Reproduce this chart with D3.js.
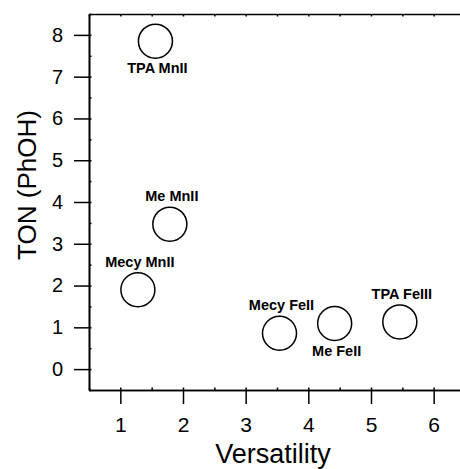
<!DOCTYPE html>
<html>
<head>
<meta charset="utf-8">
<script src="https://cdn.jsdelivr.net/npm/d3@7/dist/d3.min.js"></script>
<style>
  html, body { margin: 0; padding: 0; background: #fff; }
  svg { display: block; font-family: "Liberation Sans", Arial, sans-serif; }
</style>
</head>
<body>
<svg id="chart" width="460" height="469"></svg>
<script>
// ---- data ----
const labels = ["TPA MnII", "Me MnII", "Mecy MnII", "Mecy FeII", "Me FeII", "TPA FeIII"];
const versatility = [1.56, 1.79, 1.28, 3.54, 4.42, 5.46];
const ton = [7.85, 3.47, 1.90, 0.86, 1.09, 1.13];
const labelSide = ["below", "above", "above", "above", "below", "above"];
const xTicks = [1, 2, 3, 4, 5, 6];
const yTicks = [0, 1, 2, 3, 4, 5, 6, 7, 8];
const xTitle = "Versatility";
const yTitle = "TON (PhOH)";

// ---- layout ----
const svg = d3.select("#chart");
const mLeft = 89, mRight = 465, mTop = 14, mBottom = 390;

const x = d3.scaleLinear().domain([0.5, 6.5]).range([mLeft, mRight]);
const y = d3.scaleLinear().domain([-0.5, 8.5]).range([mBottom, mTop]);

const xMinor = d3.range(0.5, 6.51, 0.5);
const yMinor = d3.range(-0.5, 8.51, 0.5);

function styleAxis(g) {
  g.selectAll("path.domain").attr("stroke", "#000").attr("stroke-width", 1.6);
  g.selectAll(".tick line").attr("stroke", "#000").attr("stroke-width", 1.5);
}

// top frame line with small inward ticks
svg.append("g").attr("transform", `translate(0,${mTop})`)
  .call(d3.axisTop(x).tickValues(xMinor).tickSizeInner(-2.5).tickSizeOuter(0).tickFormat(""))
  .call(styleAxis);

// right frame line (mostly off-canvas)
svg.append("g").attr("transform", `translate(${mRight},0)`)
  .call(d3.axisRight(y).tickValues(yMinor).tickSizeInner(-2.5).tickSizeOuter(0).tickFormat(""))
  .call(styleAxis);

// minor inward ticks on bottom and left
svg.append("g").attr("transform", `translate(0,${mBottom})`)
  .call(d3.axisBottom(x).tickValues(xMinor).tickSizeInner(-2.5).tickSizeOuter(0).tickFormat(""))
  .call(styleAxis);
svg.append("g").attr("transform", `translate(${mLeft},0)`)
  .call(d3.axisLeft(y).tickValues(yMinor).tickSizeInner(-2.5).tickSizeOuter(0).tickFormat(""))
  .call(styleAxis);

// major bottom axis
const gx = svg.append("g").attr("transform", `translate(0,${mBottom})`)
  .call(d3.axisBottom(x).tickValues(xTicks).tickSizeInner(14).tickSizeOuter(0).tickPadding(13).tickFormat(d3.format("d")))
  .call(styleAxis);
gx.selectAll("text").attr("font-size", 21).attr("fill", "#000")
  .style("font-family", "'Liberation Sans', Arial, sans-serif");

// major left axis
const gy = svg.append("g").attr("transform", `translate(${mLeft},0)`)
  .call(d3.axisLeft(y).tickValues(yTicks).tickSizeInner(15).tickSizeOuter(0).tickPadding(11).tickFormat(d3.format("d")))
  .call(styleAxis);
gy.selectAll("text").attr("font-size", 20).attr("fill", "#000")
  .style("font-family", "'Liberation Sans', Arial, sans-serif");

// axis titles
svg.append("text")
  .attr("x", (mLeft + mRight) / 2 - 4)
  .attr("y", 463)
  .attr("text-anchor", "middle")
  .attr("font-size", 27)
  .attr("fill", "#000")
  .text(xTitle);

svg.append("text")
  .attr("transform", `translate(36,${(mTop + mBottom) / 2 - 17}) rotate(-90)`)
  .attr("text-anchor", "middle")
  .attr("font-size", 26)
  .attr("fill", "#000")
  .text(yTitle);

// points
const data = labels.map((l, i) => ({ label: l, v: versatility[i], t: ton[i], side: labelSide[i] }));
const r = 17;

svg.append("g").selectAll("circle").data(data).join("circle")
  .attr("cx", d => x(d.v))
  .attr("cy", d => y(d.t))
  .attr("r", r)
  .attr("fill", "none")
  .attr("stroke", "#000")
  .attr("stroke-width", 1.5);

svg.append("g").selectAll("text").data(data).join("text")
  .attr("x", d => x(d.v) + 2)
  .attr("y", d => d.side === "below" ? y(d.t) + r + 15 : y(d.t) - r - 6)
  .attr("text-anchor", "middle")
  .attr("font-size", 14.5)
  .attr("font-weight", "bold")
  .attr("fill", "#000")
  .text(d => d.label);
</script>
</body>
</html>
